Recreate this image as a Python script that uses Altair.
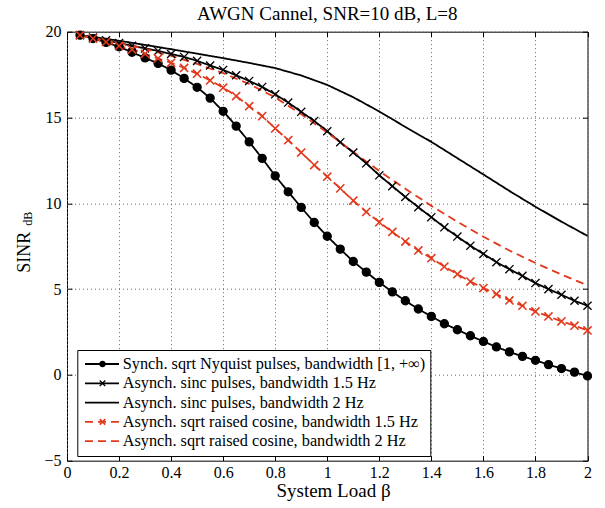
import altair as alt
import pandas as pd

# ---------------- data ----------------
X_MK = [0.05, 0.10, 0.15, 0.20, 0.25, 0.30, 0.35, 0.40, 0.45, 0.50,
        0.55, 0.60, 0.65, 0.70, 0.75, 0.80, 0.85, 0.90, 0.95, 1.00,
        1.05, 1.10, 1.15, 1.20, 1.25, 1.30, 1.35, 1.40, 1.45, 1.50,
        1.55, 1.60, 1.65, 1.70, 1.75, 1.80, 1.85, 1.90, 1.95, 2.00]

SYNCH_NYQ = [19.80, 19.60, 19.38, 19.12, 18.80, 18.47, 18.15, 17.76, 17.28, 16.76,
             16.13, 15.36, 14.50, 13.58, 12.62, 11.60, 10.67, 9.76, 8.88, 8.08,
             7.33, 6.61, 5.99, 5.39, 4.84, 4.32, 3.84, 3.41, 2.98, 2.63,
             2.28, 1.95, 1.63, 1.34, 1.08, 0.85, 0.60, 0.37, 0.16, -0.06]

SINC_15 = [19.80, 19.66, 19.50, 19.34, 19.18, 19.03, 18.88, 18.70, 18.53, 18.30,
           18.03, 17.77, 17.46, 17.13, 16.78, 16.35, 15.87, 15.33, 14.80, 14.20,
           13.56, 12.96, 12.33, 11.63, 11.00, 10.37, 9.77, 9.19, 8.60, 8.06,
           7.53, 7.05, 6.57, 6.16, 5.77, 5.35, 5.00, 4.67, 4.32, 4.03]

RC_15 = [19.80, 19.60, 19.40, 19.17, 18.96, 18.71, 18.44, 18.19, 17.89, 17.55,
         17.16, 16.74, 16.25, 15.66, 15.08, 14.36, 13.68, 12.96, 12.23, 11.55,
         10.87, 10.15, 9.50, 8.90, 8.33, 7.77, 7.25, 6.80, 6.31, 5.87,
         5.44, 5.06, 4.71, 4.34, 4.03, 3.70, 3.41, 3.12, 2.87, 2.59]

X_SMOOTH = [0.05, 0.1, 0.2, 0.3, 0.4, 0.5, 0.6, 0.7, 0.8, 0.9, 1.0,
            1.1, 1.2, 1.3, 1.4, 1.5, 1.6, 1.7, 1.8, 1.9, 2.0]
SINC_2 = [19.80, 19.70, 19.47, 19.23, 18.98, 18.72, 18.46, 18.18, 17.88, 17.45, 16.90,
          16.18, 15.35, 14.45, 13.58, 12.63, 11.68, 10.72, 9.80, 8.93, 8.10]
RC_2 = [19.80, 19.64, 19.33, 19.00, 18.60, 18.12, 17.58, 16.95, 16.17, 15.20, 14.12,
        13.00, 11.88, 10.85, 9.85, 8.92, 8.05, 7.25, 6.52, 5.85, 5.22]

NAMES = ["Synch. sqrt Nyquist pulses, bandwidth [1, +\u221e)",
         "Asynch. sinc pulses, bandwidth 1.5 Hz",
         "Asynch. sinc pulses, bandwidth 2 Hz",
         "Asynch. sqrt raised cosine, bandwidth 1.5 Hz",
         "Asynch. sqrt raised cosine, bandwidth 2 Hz"]
MK_KEYS = ["m1", "m2", "m3", "m4", "m5"]

X_TICKS = [0, 0.2, 0.4, 0.6, 0.8, 1.0, 1.2, 1.4, 1.6, 1.8, 2.0]
Y_TICKS = [-5, 0, 5, 10, 15, 20]

TITLE = "AWGN Cannel, SNR=10 dB, L=8"
X_TITLE = "System Load \u03b2"
Y_TITLE = "SINR"
Y_SUB = "dB"

# ---------------- styles ----------------
RED = "#e2381c"
BLACK = "#000000"
FONT = "Liberation Serif"
LINE_COLORS = [BLACK, BLACK, BLACK, RED, RED]
LINE_DASHES = [[1, 0], [1, 0], [1, 0], [8, 5], [8, 5]]
XPATH = "M-1,-1L1,1M-1,1L1,-1"
MK_SHAPES = ["circle", XPATH, "circle", XPATH, "circle"]
MK_STROKES = [BLACK, BLACK, "transparent", RED, "transparent"]
MK_FILLS = [BLACK, "transparent", "transparent", "transparent", "transparent"]
MK_WIDTHS = [1.2, 1.7, 1.0, 2.4, 1.0]

# ---------------- tables ----------------
rows = []
for name, mk, xs, ys in [(NAMES[0], MK_KEYS[0], X_MK, SYNCH_NYQ),
                         (NAMES[1], MK_KEYS[1], X_MK, SINC_15),
                         (NAMES[2], MK_KEYS[2], X_SMOOTH, SINC_2),
                         (NAMES[3], MK_KEYS[3], X_MK, RC_15),
                         (NAMES[4], MK_KEYS[4], X_SMOOTH, RC_2)]:
    for xv, yv in zip(xs, ys):
        rows.append({"series": name, "mk": mk, "x": xv, "y": yv})
line_df = pd.DataFrame(rows)
pt_df = line_df[line_df["mk"].isin(["m1", "m2", "m4"])]

xscale = alt.Scale(domain=[0, 2], nice=False, zero=False)
yscale = alt.Scale(domain=[-5, 20], nice=False, zero=False)

LEG_X = 10.3
LEG_Y = 318.3
LEG_PAD = 5.0
ROW_H = 18
ROW_PAD = 1.3

legend_lines = alt.Legend(
    orient="none", legendX=LEG_X, legendY=LEG_Y, direction="vertical",
    title=None, padding=LEG_PAD, fillColor="white", strokeColor="black",
    cornerRadius=0, symbolType="stroke", symbolSize=1156,
    symbolStrokeWidth=1.8, symbolOffset=1.7, labelOffset=2.7,
    labelFont=FONT, labelFontSize=16.3, labelColor="black", labelLimit=0,
    clipHeight=ROW_H, rowPadding=ROW_PAD)

legend_marks = alt.Legend(
    orient="none", legendX=LEG_X, legendY=LEG_Y, direction="vertical",
    title=None, padding=LEG_PAD, symbolSize=30, symbolStrokeWidth=1.5,
    symbolOffset=16.2, labelExpr="''", labelFontSize=1, labelOffset=0,
    clipHeight=ROW_H, rowPadding=ROW_PAD)

lines = alt.Chart(line_df).mark_line(strokeWidth=1.8).encode(
    x=alt.X("x:Q", scale=xscale, axis=alt.Axis(
        orient="bottom", values=X_TICKS, format="~g", grid=False, domain=False,
        tickSize=5, tickColor="black", offset=-5, labelPadding=4,
        labelFont=FONT, labelFontSize=16, labelColor="black", labelFlush=False,
        labelOverlap=False, title=X_TITLE, titleFont=FONT, titleFontSize=19,
        titleFontWeight="normal", titleColor="black", titleX=266, titleY=35,
        titleAlign="center", titleBaseline="middle")),
    y=alt.Y("y:Q", scale=yscale, axis=alt.Axis(
        orient="left", values=Y_TICKS, grid=False, domain=False,
        tickSize=5, tickColor="black", offset=-5, labelPadding=6,
        labelFont=FONT, labelFontSize=16, labelColor="black", labelFlush=False,
        labelOverlap=False, title=Y_TITLE, titleFont=FONT, titleFontSize=18,
        titleFontWeight="normal", titleColor="black", titleX=-48, titleY=220,
        titleAngle=270, titleAlign="center", titleBaseline="middle")),
    color=alt.Color("series:N", scale=alt.Scale(domain=NAMES, range=LINE_COLORS),
                    legend=legend_lines),
    strokeDash=alt.StrokeDash("series:N", scale=alt.Scale(domain=NAMES, range=LINE_DASHES),
                              legend=legend_lines),
)

points = alt.Chart(pt_df).mark_point(size=66, opacity=1).encode(
    x=alt.X("x:Q", scale=xscale, axis=alt.Axis(
        orient="top", values=X_TICKS, labels=False, title=None, grid=True,
        gridDash=[1, 3], gridColor="#666666", gridWidth=1, domain=False,
        tickSize=5, tickColor="black", offset=-5)),
    y=alt.Y("y:Q", scale=yscale, axis=alt.Axis(
        orient="right", values=Y_TICKS, labels=False, title=None, grid=True,
        gridDash=[1, 3], gridColor="#666666", gridWidth=1, domain=False,
        tickSize=5, tickColor="black", offset=-5)),
    stroke=alt.Stroke("mk:N", scale=alt.Scale(domain=MK_KEYS, range=MK_STROKES),
                      legend=legend_marks),
    fill=alt.Fill("mk:N", scale=alt.Scale(domain=MK_KEYS, range=MK_FILLS),
                  legend=legend_marks),
    shape=alt.Shape("mk:N", scale=alt.Scale(domain=MK_KEYS, range=MK_SHAPES),
                    legend=legend_marks),
    strokeWidth=alt.StrokeWidth("mk:N", scale=alt.Scale(domain=MK_KEYS, range=MK_WIDTHS),
                                legend=None),
)

sub = alt.Chart(pd.DataFrame({"t": [Y_SUB]})).mark_text(
    font=FONT, fontSize=12, angle=270, align="center", baseline="middle",
    color="black").encode(text="t:N", x=alt.value(-39), y=alt.value(187))

chart = alt.layer(lines, points, sub).properties(
    width=520.5, height=429,
    title=alt.TitleParams(TITLE, font=FONT, fontSize=19, fontWeight="normal",
                          color="black", anchor="middle", offset=0),
    autosize=alt.AutoSizeParams(type="none"),
    padding={"left": 67, "top": 31.7, "right": 17.5, "bottom": 47.3},
).configure_view(stroke="black", strokeWidth=1)

chart.save("out.html", embed_options={"renderer": "svg", "actions": False})
